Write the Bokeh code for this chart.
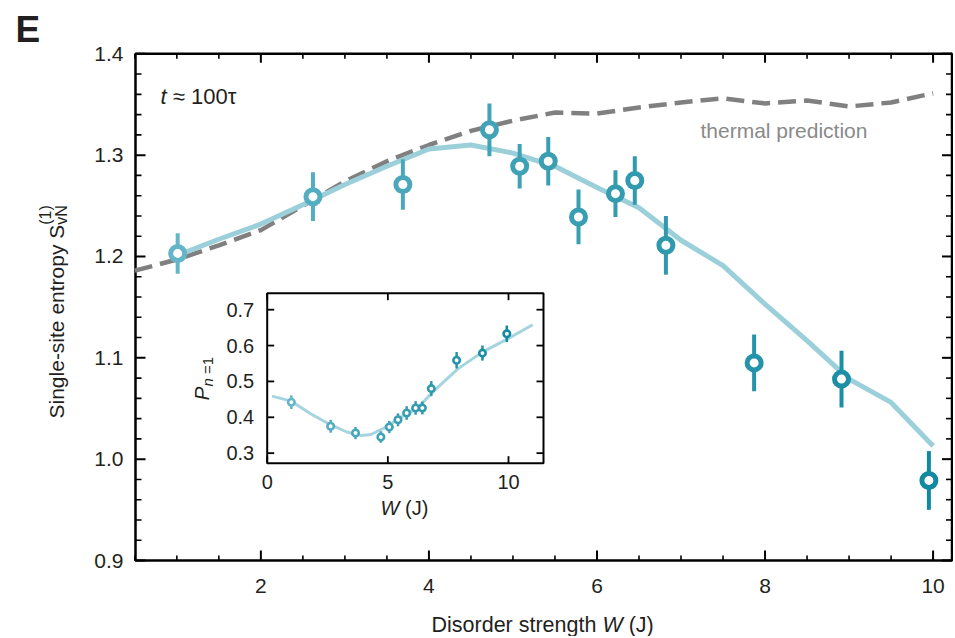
import numpy as np
from bokeh.plotting import figure
from bokeh.models import Range1d, Label
from bokeh.embed import file_html
from bokeh.resources import INLINE
from bokeh.core.properties import value

FONT = "Liberation Sans"
TXT = "#231f20"

# ---------------- main panel data ----------------
w_exp = [1.01, 2.62, 3.69, 4.72, 5.08, 5.42, 5.78, 6.22, 6.45, 6.82, 7.87, 8.91, 9.95]
s_exp = [1.203, 1.259, 1.271, 1.325, 1.289, 1.294, 1.239, 1.262, 1.275, 1.211, 1.095, 1.079, 0.979]
s_err = [0.020, 0.024, 0.025, 0.026, 0.022, 0.024, 0.027, 0.023, 0.024, 0.029, 0.028, 0.028, 0.029]

w_theory = [1.0, 1.5, 2.0, 2.5, 3.0, 3.5, 4.0, 4.5, 5.0, 5.5, 6.0, 6.5, 7.0, 7.5, 8.0, 8.5, 9.0, 9.5, 10.0]
s_theory = [1.201, 1.217, 1.232, 1.251, 1.271, 1.289, 1.306, 1.310, 1.302, 1.289, 1.268, 1.248, 1.216,
            1.191, 1.153, 1.117, 1.079, 1.056, 1.013]

w_thermal = [0.5, 1.0, 1.5, 2.0, 2.5, 3.0, 3.5, 4.0, 4.5, 5.0, 5.5, 6.0, 6.5, 7.0, 7.5, 8.0, 8.5, 9.0, 9.5, 10.0]
s_thermal = [1.186, 1.197, 1.211, 1.226, 1.250, 1.274, 1.294, 1.310, 1.324, 1.334, 1.342, 1.341, 1.347,
             1.352, 1.356, 1.351, 1.354, 1.348, 1.352, 1.361]

x_box = (0.508, 10.225)
y_box = (0.9, 1.4)
x_major = [2, 4, 6, 8, 10]
x_labels = ["2", "4", "6", "8", "10"]
x_minor = [0.5, 1.0, 1.5, 2.5, 3.0, 3.5, 4.5, 5.0, 5.5, 6.5, 7.0, 7.5, 8.5, 9.0, 9.5, 10.0]
y_major = [0.9, 1.0, 1.1, 1.2, 1.3, 1.4]
y_labels = ["0.9", "1.0", "1.1", "1.2", "1.3", "1.4"]
y_minor = [0.92, 0.94, 0.96, 0.98, 1.02, 1.04, 1.06, 1.08, 1.12, 1.14, 1.16, 1.18,
           1.22, 1.24, 1.26, 1.28, 1.32, 1.34, 1.36, 1.38]

# ---------------- inset data ----------------
w_in = [1.00, 2.63, 3.66, 4.71, 5.06, 5.42, 5.78, 6.15, 6.43, 6.80, 7.85, 8.92, 9.93]
p_in = [0.442, 0.375, 0.356, 0.345, 0.373, 0.393, 0.412, 0.426, 0.426, 0.480, 0.559, 0.579, 0.633]
p_err = [0.019, 0.018, 0.017, 0.016, 0.017, 0.018, 0.019, 0.019, 0.018, 0.021, 0.023, 0.021, 0.023]

w_in_theory = [0.2, 1.0, 1.8, 2.6, 3.3, 3.9, 4.3, 5.0, 5.5, 6.2, 6.9, 7.9, 8.9, 10.0, 11.0]
p_in_theory = [0.459, 0.445, 0.410, 0.380, 0.359, 0.349, 0.352, 0.375, 0.399, 0.424, 0.473, 0.535,
               0.581, 0.620, 0.658]

in_x_box = (0.0, 11.45)
in_y_box = (0.272, 0.746)
in_x_ticks = [0, 5, 10]
in_x_labels = ["0", "5", "10"]
in_y_ticks = [0.3, 0.4, 0.5, 0.6, 0.7]
in_y_labels = ["0.3", "0.4", "0.5", "0.6", "0.7"]

# colour gradient of the markers (light teal -> dark teal with W)
def blend(w):
    f = min(max((w - 1.0) / 9.0, 0.0), 1.0)
    c0 = (99, 181, 199)
    c1 = (18, 137, 160)
    return "#%02x%02x%02x" % tuple(int(round(a + (b - a) * f)) for a, b in zip(c0, c1))

col_exp = [blend(w) for w in w_exp]
col_in = [blend(w) for w in w_in]

THEORY = "#9bcfda"
GRAY = "#808080"

# ---------------- layout of the canvas (pixels) ----------------
CW, CH = 953, 636
BOX_L, BOX_R, BOX_T, BOX_B = 135.0, 951.5, 53.3, 560.0
kx = (BOX_R - BOX_L) / (x_box[1] - x_box[0])
ky = (BOX_B - BOX_T) / (y_box[1] - y_box[0])
x_rng = Range1d(x_box[0] - BOX_L / kx, x_box[1] + (CW - BOX_R) / kx)
y_rng = Range1d(y_box[0] - (CH - BOX_B) / ky, y_box[1] + BOX_T / ky)

def xdat(px):
    return x_box[0] + (px - BOX_L) / kx

def ydat(py):
    return y_box[1] - (py - BOX_T) / ky

p = figure(width=CW, height=CH, x_range=x_rng, y_range=y_rng,
           output_backend="svg", toolbar_location=None, min_border=0,
           x_axis_location=None, y_axis_location=None)
p.grid.visible = False
p.outline_line_color = None
p.background_fill_color = "white"
p.border_fill_color = "white"

# ---- main box, ticks and tick labels ----
p.quad(left=[x_box[0]], right=[x_box[1]], bottom=[y_box[0]], top=[y_box[1]],
       fill_color=None, line_color="black", line_width=2.5)

def ticks(api, xs, ys, length, angle, width):
    api.ray(x=xs, y=ys, length=length, length_units="screen", angle=angle,
            line_color="black", line_width=width)

ticks(p, x_major, [y_box[0]] * len(x_major), 10, np.pi / 2, 2)
ticks(p, x_minor, [y_box[0]] * len(x_minor), 5, np.pi / 2, 1.6)
ticks(p, x_major, [y_box[1]] * len(x_major), 9, -np.pi / 2, 2)
ticks(p, x_minor, [y_box[1]] * len(x_minor), 5, -np.pi / 2, 1.6)
ticks(p, [x_box[0]] * len(y_major), y_major, 10, 0, 2)
ticks(p, [x_box[0]] * len(y_minor), y_minor, 6, 0, 1.6)
ticks(p, [x_box[1]] * len(y_major), y_major, 10, np.pi, 2)
ticks(p, [x_box[1]] * len(y_minor), y_minor, 6, np.pi, 1.6)

p.text(x=x_major, y=[y_box[0]] * len(x_major), text=x_labels, y_offset=25,
       text_align="center", text_baseline="middle", text_font=value(FONT),
       text_font_size="21px", text_color=TXT)
p.text(x=[x_box[0]] * len(y_major), y=y_major, text=y_labels, x_offset=-12,
       text_align="right", text_baseline="middle", text_font=value(FONT),
       text_font_size="21px", text_color=TXT)

# ---- curves and data ----
p.line(w_thermal, s_thermal, line_color=GRAY, line_width=4.5, line_dash="18 8")
p.line(w_theory, s_theory, line_color=THEORY, line_width=5)

lo = [s - e for s, e in zip(s_exp, s_err)]
hi = [s + e for s, e in zip(s_exp, s_err)]
p.segment(x0=w_exp, y0=lo, x1=w_exp, y1=hi, line_color=col_exp, line_width=4)
p.scatter(w_exp, s_exp, marker="circle", size=14, fill_color="white",
          line_color=col_exp, line_width=5)

# ---------------- inset (sub-coordinates inside the canvas) ----------------
in_xr = Range1d(*in_x_box)
in_yr = Range1d(*in_y_box)
inset = p.subplot(x_source=in_xr, y_source=in_yr,
                  x_target=Range1d(xdat(266.7), xdat(543.0)),
                  y_target=Range1d(ydat(462.7), ydat(292.7)))

inset.quad(left=[in_x_box[0]], right=[in_x_box[1]], bottom=[in_y_box[0]], top=[in_y_box[1]],
           fill_color="white", line_color="black", line_width=2)
ticks(inset, in_x_ticks, [in_y_box[0]] * 3, 7, np.pi / 2, 1.8)
ticks(inset, in_x_ticks, [in_y_box[1]] * 3, 7, -np.pi / 2, 1.8)
ticks(inset, [in_x_box[0]] * 5, in_y_ticks, 7, 0, 1.8)
ticks(inset, [in_x_box[1]] * 5, in_y_ticks, 7, np.pi, 1.8)
inset.text(x=in_x_ticks, y=[in_y_box[0]] * 3, text=in_x_labels, y_offset=19,
           text_align="center", text_baseline="middle", text_font=value(FONT),
           text_font_size="20px", text_color=TXT)
inset.text(x=[in_x_box[0]] * 5, y=in_y_ticks, text=in_y_labels, x_offset=-13,
           text_align="right", text_baseline="middle", text_font=value(FONT),
           text_font_size="20px", text_color=TXT)

inset.line(w_in_theory, p_in_theory, line_color="#a6d4de", line_width=3)
in_lo = [v - e for v, e in zip(p_in, p_err)]
in_hi = [v + e for v, e in zip(p_in, p_err)]
inset.segment(x0=w_in, y0=in_lo, x1=w_in, y1=in_hi, line_color=col_in, line_width=2.5)
inset.scatter(w_in, p_in, marker="circle", size=6.5, fill_color="white",
              line_color=col_in, line_width=2.6)

# ---------------- texts (page pixels of the baseline start -> screen units) ----------------
SHIFT = 0.34  # Label draws its text about 0.34 em below the requested baseline


def lab(text, px, py, size, style="normal", color=TXT, rotated=False, font=FONT):
    s = float(size.replace("px", ""))
    if rotated:
        px = px - SHIFT * s
    else:
        py = py - SHIFT * s
    p.add_layout(Label(x=px, y=CH - py, x_units="screen", y_units="screen", text=text,
                       text_font=font, text_font_size=size, text_font_style=style,
                       text_color=color, angle=(np.pi / 2 if rotated else 0.0),
                       text_align="left", text_baseline="alphabetic"))

lab("E", 15, 42, "37px", style="bold")
lab("t", 160, 103, "22px", style="italic")
lab("\u2248 100\u03c4", 172.3, 103, "22px")
lab("thermal prediction", 700, 137, "21px", color="#8a8a8a")

# x axis title
lab("Disorder strength", 431, 632, "21.5px")
lab("W", 601.9, 632, "21.5px", style="italic")
lab("(J)", 628.2, 632, "21.5px")

# y axis title (rotated)
lab("Single-site entropy", 63, 418, "21px", rotated=True)
lab("S", 63, 238.3, "21px", rotated=True)
lab("vN", 66, 224.3, "16px", rotated=True)
lab("(1)", 50, 224.3, "16px", rotated=True)

# inset axis titles
lab("W", 380, 514, "20px", style="italic")
lab("(J)", 404.5, 514, "20px")
lab("P", 208, 400, "21px", style="italic", rotated=True)
lab("n", 212, 386, "15px", style="italic", rotated=True)
lab("=1", 212, 373.5, "15px", rotated=True)

open("out.html", "w").write(file_html(p, INLINE))
